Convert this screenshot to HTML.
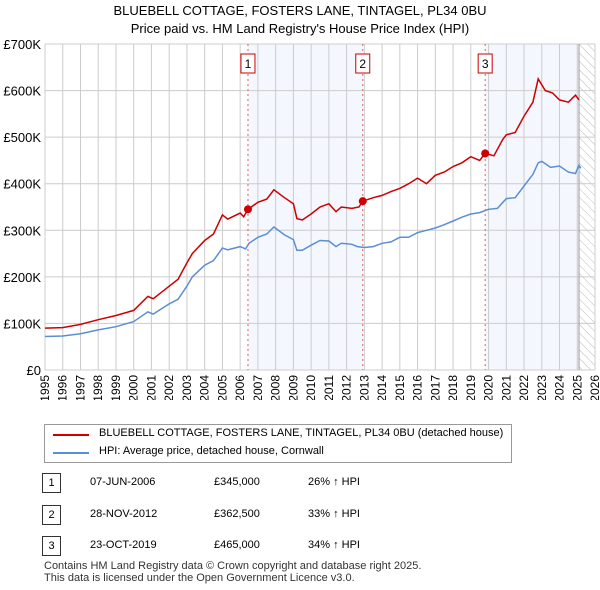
<!DOCTYPE html>
<html><head><meta charset="utf-8"><style>
body{margin:0;background:#fff;font-family:"Liberation Sans",sans-serif;}
#root{position:relative;width:600px;height:590px;overflow:hidden;}
.t{position:absolute;font-size:12px;color:#000;white-space:nowrap;}
</style></head><body><div id="root">
<div class="t" style="left:0;width:600px;text-align:center;top:2px;font-size:13px;line-height:18px">BLUEBELL COTTAGE, FOSTERS LANE, TINTAGEL, PL34 0BU<br>Price paid vs. HM Land Registry's House Price Index (HPI)</div>
<svg id="chart" width="600" height="400" style="position:absolute;left:0;top:0"></svg>
<div style="position:absolute;left:44px;top:424px;width:466px;height:37px;border:1px solid #999;">
 <div style="position:absolute;left:8px;top:9px;width:36px;border-top:2px solid #cc0000"></div>
 <div class="t" style="left:54px;top:2px;font-size:11px">BLUEBELL COTTAGE, FOSTERS LANE, TINTAGEL, PL34 0BU (detached house)</div>
 <div style="position:absolute;left:8px;top:27px;width:36px;border-top:2px solid #5b8ed4"></div>
 <div class="t" style="left:54px;top:20px;font-size:11px">HPI: Average price, detached house, Cornwall</div>
</div>
<div id="tbl"></div>
<div class="t" style="left:44px;top:560px;font-size:11px;line-height:12px;color:#333">Contains HM Land Registry data © Crown copyright and database right 2025.<br>This data is licensed under the Open Government Licence v3.0.</div>
</div>
<script>
const hpiYears=[1995,1996,1997,1998,1999,2000,2000.8,2001.1,2001.5,2002,2002.5,2003,2003.3,2004,2004.5,2005,2005.3,2006,2006.3,2006.5,2007,2007.5,2007.9,2008.5,2009,2009.2,2009.5,2010,2010.5,2011,2011.4,2011.7,2012.3,2012.6,2013,2013.5,2014,2014.5,2015,2015.5,2016,2016.5,2017,2017.5,2018,2018.5,2019,2019.5,2020,2020.5,2021,2021.5,2022,2022.5,2022.8,2023,2023.5,2024,2024.5,2024.9,2025.1,2025.2];
const hpiValues=[72,73,78,86,93,104,125,120,130,142,152,180,200,225,235,262,258,265,260,272,285,292,307,290,280,257,257,268,278,277,265,272,270,265,263,265,272,275,285,285,295,300,305,312,320,328,335,338,345,347,368,370,395,420,445,448,435,438,425,422,440,433];
const propYears=[1995,1996,1997,1998,1999,2000,2000.8,2001.1,2001.5,2002,2002.5,2003,2003.3,2004,2004.5,2005,2005.3,2006,2006.2,2006.44,2007,2007.5,2007.9,2008.5,2009,2009.2,2009.5,2010,2010.5,2011,2011.4,2011.7,2012.3,2012.7,2012.9,2013.5,2014,2014.5,2015,2015.5,2016,2016.5,2017,2017.5,2018,2018.5,2019,2019.5,2019.8,2020.3,2020.8,2021,2021.5,2022,2022.5,2022.8,2023.2,2023.6,2024,2024.5,2024.9,2025.1];
const propValues=[90,91,98,108,117,128,158,153,165,180,195,230,250,278,292,333,324,337,329,345,360,367,387,370,357,325,322,335,350,357,340,350,347,350,362.5,370,375,383,390,400,412,400,418,425,437,445,458,450,465,460,495,505,510,545,575,625,600,595,580,575,590,580];
const saleLabels=["1","2","3"];
const saleYears=[2006.44,2012.91,2019.81];
const saleValues=[345,362.5,465];
const saleDates=["07-JUN-2006","28-NOV-2012","23-OCT-2019"];
const salePrices=["£345,000","£362,500","£465,000"];
const saleHpi=["26% ↑ HPI","33% ↑ HPI","34% ↑ HPI"];
const yTicks=[0,100,200,300,400,500,600,700];
const yTickLabels=["£0","£100K","£200K","£300K","£400K","£500K","£600K","£700K"];
const xTicks=[];for(let y=1995;y<=2026;y++)xTicks.push(y);
const dataEnd=2025.1;

const L=45,R=595,T=44,B=370,X0=1995,X1=2026;
const xs=v=>L+(v-X0)/(X1-X0)*(R-L);
const ys=v=>B-v/700*(B-T);
const svg=document.getElementById('chart');const NS='http://www.w3.org/2000/svg';
function mk(tag,a){const e=document.createElementNS(NS,tag);for(const k in a)e.setAttribute(k,a[k]);svg.appendChild(e);return e;}
let defs=document.createElementNS(NS,'defs');defs.innerHTML='<pattern id="hatch" width="6" height="6" patternUnits="userSpaceOnUse" patternTransform="rotate(-45)"><line x1="0" y1="0" x2="0" y2="6" stroke="#bbb" stroke-width="1"/></pattern>';svg.appendChild(defs);
let e;
e=mk('rect',{x:xs(saleYears[0]),y:T,width:xs(saleYears[1])-xs(saleYears[0]),height:B-T,fill:'#f4f7fe'});


e=mk('rect',{x:xs(saleYears[2]),y:T,width:xs(dataEnd)-xs(saleYears[2]),height:B-T,fill:'#f4f7fe'});


e=mk('rect',{x:xs(dataEnd),y:T,width:R-xs(dataEnd),height:B-T,fill:'url(#hatch)'});


xTicks.forEach((t,i)=>{
 e=mk('line',{x1:xs(t),x2:xs(t),y1:T,y2:B,stroke:'#ccc','stroke-width':1});
 
 
 e=mk('text',{transform:`translate(${xs(t)+4},${B+5}) rotate(-90)`,'text-anchor':'end','font-size':12,'font-family':'Liberation Sans, sans-serif',fill:'#000'});
 e.textContent=t;
 
 
});
yTicks.forEach((t,i)=>{
 e=mk('line',{x1:L,x2:R,y1:ys(t),y2:ys(t),stroke:'#ccc','stroke-width':1});
 
 
 e=mk('text',{x:L-4,y:ys(t)+5,'text-anchor':'end','font-size':13,'font-family':'Liberation Sans, sans-serif',fill:'#000'});
 e.textContent=yTickLabels[i];
 
 
});
e=mk('line',{x1:xs(dataEnd),x2:xs(dataEnd),y1:T,y2:B,stroke:'#999','stroke-width':1});


function path(xa,va){return xa.map((x,i)=>(i?'L':'M')+xs(x).toFixed(1)+','+ys(va[i]).toFixed(1)).join('');}
e=mk('path',{d:path(hpiYears,hpiValues),fill:'none',stroke:'#5b8ed4','stroke-width':1.5});


e=mk('path',{d:path(propYears,propValues),fill:'none',stroke:'#cc0000','stroke-width':1.5});


saleYears.forEach((s,i)=>{
 e=mk('line',{x1:xs(s),x2:xs(s),y1:T,y2:B,stroke:'#e06060','stroke-width':1,'stroke-dasharray':'2,3'});
 
 
 e=mk('circle',{cx:xs(s),cy:ys(saleValues[i]),r:4,fill:'#cc0000'});
 
 
 e=mk('rect',{x:xs(s)-7,y:54,width:14,height:19,fill:'#fff',stroke:'#cc0000','stroke-width':1});
 
 
 e=mk('text',{x:xs(s),y:68,'text-anchor':'middle','font-size':12,'font-family':'Liberation Sans, sans-serif'});
 e.textContent=saleLabels[i];
 
 
});
const tbl=document.getElementById('tbl');
saleLabels.forEach((l,i)=>{
 const top=473+i*31.5;
 const row=document.createElement('div');
 
 
 row.innerHTML=`<div style="position:absolute;left:42px;top:${top}px;width:17px;height:18px;border:1px solid #333;font-size:11px;text-align:center;line-height:18px">${l}</div>
 <div class="t" style="left:90px;top:${top+3}px;font-size:11px">${saleDates[i]}</div>
 <div class="t" style="left:214px;top:${top+3}px;font-size:11px">${salePrices[i]}</div>
 <div class="t" style="left:308px;top:${top+3}px;font-size:11px">${saleHpi[i]}</div>`;
 tbl.appendChild(row);
});
</script></body></html>
